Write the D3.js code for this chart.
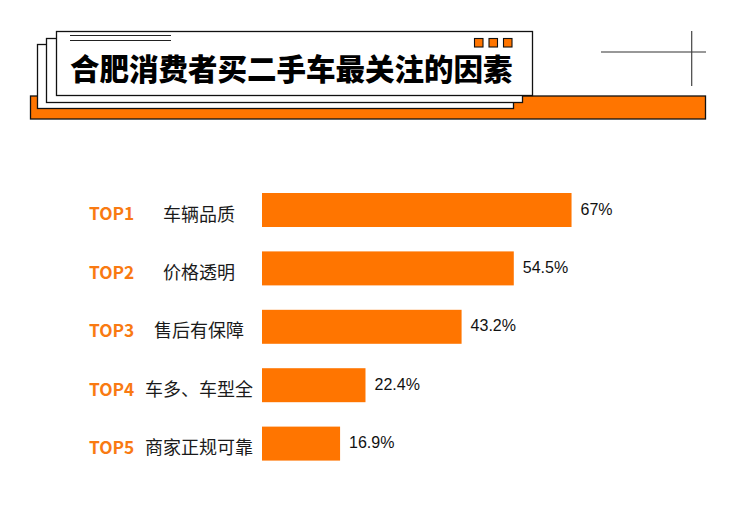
<!DOCTYPE html>
<html><head><meta charset="utf-8">
<script src="https://cdn.jsdelivr.net/npm/d3@7"></script>
<style>html,body{margin:0;padding:0;background:#fff;}svg{display:block;}</style>
</head><body>
<svg id="chart" width="750" height="522"></svg>
<script>
const title = "合肥消费者买二手车最关注的因素";
const ranks = ["TOP1", "TOP2", "TOP3", "TOP4", "TOP5"];
const categories = ["车辆品质", "价格透明", "售后有保障", "车多、车型全", "商家正规可靠"];
const values = [67, 54.5, 43.2, 22.4, 16.9];
const valueLabels = ["67%", "54.5%", "43.2%", "22.4%", "16.9%"];

const svg = d3.select("#chart");
const ORANGE = "#ff7500";
const CJK = "'Noto Sans CJK SC', 'Noto Sans', sans-serif";

// ---------- header decoration ----------
const hdr = svg.append("g");
hdr.append("rect").attr("x", 30.5).attr("y", 96).attr("width", 675).attr("height", 23)
  .attr("fill", ORANGE).attr("stroke", "#111").attr("stroke-width", 1.3);
const panels = [[37.5, 44.5], [46.5, 38.5], [56.5, 31.5]];
panels.forEach(([x, y]) => {
  hdr.append("rect").attr("x", x).attr("y", y).attr("width", 476).attr("height", 64)
    .attr("fill", "#fff").attr("stroke", "#111").attr("stroke-width", 1.3);
});
[35.5, 40.5].forEach(y => {
  hdr.append("line").attr("x1", 70).attr("x2", 171).attr("y1", y).attr("y2", y)
    .attr("stroke", "#222").attr("stroke-width", 1.1);
});
[474.5, 489, 503.5].forEach(x => {
  hdr.append("rect").attr("x", x).attr("y", 38.5).attr("width", 8.5).attr("height", 8.5)
    .attr("fill", ORANGE).attr("stroke", "#111").attr("stroke-width", 1.1);
});
hdr.append("text").attr("x", 70).attr("y", 80)
  .attr("font-family", CJK).attr("font-weight", 900).attr("font-size", 29.5)
  .attr("fill", "#000").text(title);
// crosshair
hdr.append("line").attr("x1", 601).attr("x2", 706).attr("y1", 52).attr("y2", 52)
  .attr("stroke", "#333").attr("stroke-width", 1.2);
hdr.append("line").attr("x1", 691.7).attr("x2", 691.7).attr("y1", 31).attr("y2", 86)
  .attr("stroke", "#444").attr("stroke-width", 1.2);

// ---------- bars ----------
const x = d3.scaleLinear().domain([0, 100]).range([262, 724]);
const y = d3.scaleBand().domain(categories).range([180.8, 472.8])
  .paddingInner(0.418).paddingOuter(0.209);

const rows = svg.append("g").selectAll("g").data(categories).join("g");

rows.append("rect")
  .attr("x", x(0))
  .attr("y", d => y(d))
  .attr("width", (d, i) => x(values[i]) - x(0))
  .attr("height", y.bandwidth())
  .attr("fill", ORANGE);

rows.append("text")
  .attr("x", 89)
  .attr("y", d => y(d) + y.bandwidth() / 2 + 10.3)
  .attr("font-family", CJK).attr("font-weight", 700).attr("font-size", 17.3)
  .attr("fill", "#f97a12")
  .text((d, i) => ranks[i]);

rows.append("text")
  .attr("x", 199)
  .attr("y", d => y(d) + y.bandwidth() / 2 + 10.5)
  .attr("text-anchor", "middle")
  .attr("font-family", CJK).attr("font-size", 18)
  .attr("fill", "#1a1a1a")
  .text(d => d);

rows.append("text")
  .attr("x", (d, i) => x(values[i]) + 9)
  .attr("y", d => y(d) + y.bandwidth() / 2 + 4.5)
  .attr("font-family", "'Liberation Sans', Arial, sans-serif").attr("font-size", 16)
  .attr("fill", "#111")
  .text((d, i) => valueLabels[i]);
</script>
</body></html>
